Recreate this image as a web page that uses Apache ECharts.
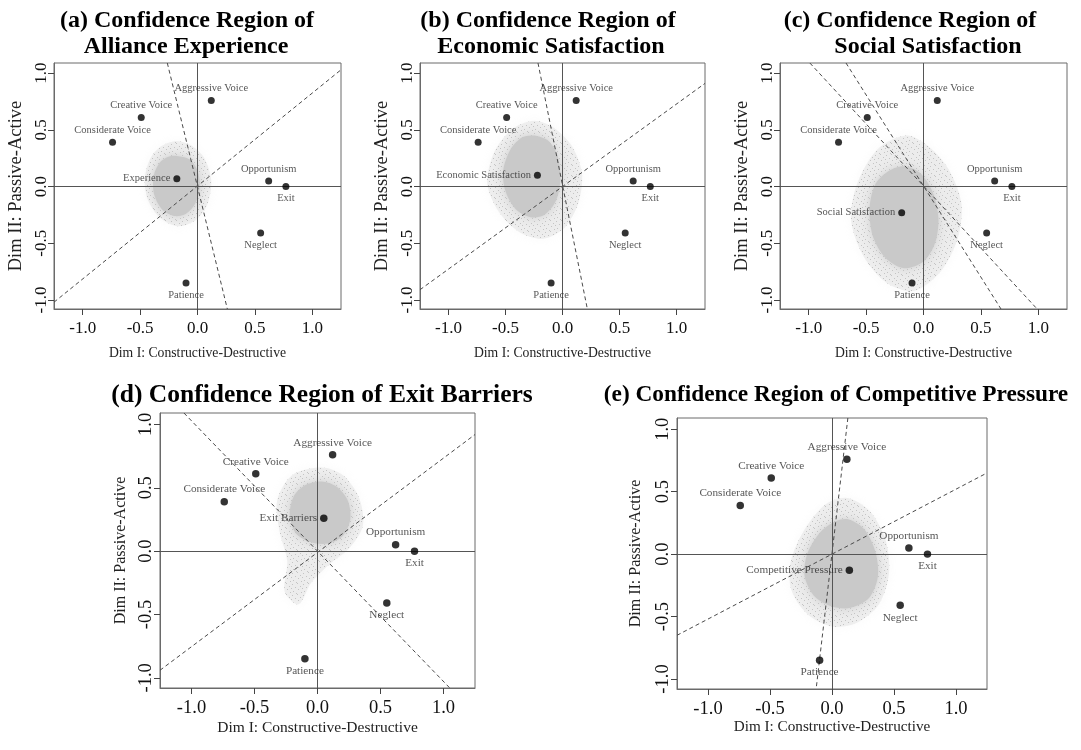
<!DOCTYPE html>
<html><head><meta charset="utf-8">
<script src="https://cdn.jsdelivr.net/npm/echarts@6/dist/echarts.min.js"></script>
<style>html,body{margin:0;padding:0;background:#fff}#c{width:1081px;height:750px}</style>
</head><body><div id="c"></div><script>
// ---- data ----
const responseNames = ['Creative Voice','Considerate Voice','Aggressive Voice','Opportunism','Exit','Neglect','Patience'];
const responseX = [-0.49,-0.74,0.12,0.62,0.77,0.55,-0.10];
const responseY = [0.61,0.39,0.76,0.05,0.00,-0.41,-0.85];

const factorNames = ['Experience','Economic Satisfaction','Social Satisfaction','Exit Barriers','Competitive Pressure'];
const factorX = [-0.18,-0.22,-0.19,0.05,0.14];
const factorY = [0.07,0.10,-0.23,0.26,-0.13];

const titleLines = [
  ['(a) Confidence Region of','Alliance Experience'],
  ['(b) Confidence Region of','Economic Satisfaction'],
  ['(c) Confidence Region of','Social Satisfaction'],
  ['(d) Confidence Region of Exit Barriers'],
  ['(e) Confidence Region of Competitive Pressure']
];
const xAxisTitle = 'Dim I: Constructive-Destructive';
const yAxisTitle = 'Dim II: Passive-Active';
const tickValues = [-1.0,-0.5,0.0,0.5,1.0];
const xRange = [-1.25,1.25];
const yRange = [-1.08,1.09];

// outlines of the sparse outer cloud and the dense core (data coordinates)
const cloudOuterA = [[-0.18,0.40],[-0.05,0.36],[0.06,0.25],[0.12,0.05],[0.08,-0.17],[-0.02,-0.30],[-0.17,-0.35],[-0.32,-0.28],[-0.43,-0.12],[-0.46,0.06],[-0.41,0.25],[-0.31,0.36]];
const cloudInnerA = [[-0.18,0.27],[-0.07,0.24],[0.0,0.14],[0.02,0.0],[-0.02,-0.15],[-0.10,-0.24],[-0.20,-0.26],[-0.31,-0.20],[-0.38,-0.06],[-0.38,0.10],[-0.33,0.21],[-0.26,0.26]];
const cloudOuterB = [[-0.25,0.58],[-0.08,0.52],[0.08,0.36],[0.17,0.12],[0.14,-0.14],[0.02,-0.36],[-0.17,-0.46],[-0.38,-0.40],[-0.56,-0.22],[-0.66,0.03],[-0.60,0.30],[-0.45,0.50]];
const cloudInnerB = [[-0.25,0.45],[-0.12,0.40],[-0.04,0.26],[-0.02,0.05],[-0.06,-0.13],[-0.16,-0.25],[-0.28,-0.27],[-0.41,-0.20],[-0.50,-0.04],[-0.52,0.14],[-0.46,0.32],[-0.36,0.43]];
const cloudOuterC = [[-0.15,0.45],[0.05,0.35],[0.22,0.15],[0.33,-0.15],[0.30,-0.45],[0.15,-0.75],[-0.08,-0.92],[-0.32,-0.85],[-0.52,-0.62],[-0.63,-0.30],[-0.58,0.02],[-0.40,0.33]];
const cloudInnerC = [[-0.17,0.18],[-0.03,0.12],[0.08,-0.05],[0.13,-0.28],[0.10,-0.50],[0.0,-0.66],[-0.17,-0.72],[-0.33,-0.63],[-0.44,-0.44],[-0.47,-0.20],[-0.42,0.02],[-0.30,0.14]];
const cloudOuterD = [[0.03,0.66],[0.20,0.60],[0.33,0.42],[0.36,0.20],[0.25,0.02],[0.10,-0.10],[-0.05,-0.25],[-0.15,-0.42],[-0.26,-0.32],[-0.24,-0.08],[-0.30,0.15],[-0.32,0.40],[-0.20,0.60]];
const cloudInnerD = [[0.03,0.55],[0.15,0.51],[0.24,0.40],[0.26,0.25],[0.20,0.12],[0.08,0.06],[-0.05,0.07],[-0.17,0.14],[-0.22,0.28],[-0.19,0.43],[-0.10,0.52]];
const cloudOuterE = [[0.12,0.45],[0.30,0.35],[0.43,0.12],[0.46,-0.15],[0.38,-0.40],[0.20,-0.55],[0.0,-0.58],[-0.20,-0.48],[-0.33,-0.28],[-0.33,-0.05],[-0.22,0.20],[-0.05,0.40]];
const cloudInnerE = [[0.13,0.28],[0.26,0.20],[0.35,0.02],[0.37,-0.18],[0.30,-0.35],[0.15,-0.43],[0.0,-0.42],[-0.14,-0.34],[-0.22,-0.18],[-0.20,0.0],[-0.10,0.17],[0.02,0.26]];
const cloudOuters = [cloudOuterA,cloudOuterB,cloudOuterC,cloudOuterD,cloudOuterE];
const cloudInners = [cloudInnerA,cloudInnerB,cloudInnerC,cloudInnerD,cloudInnerE];

// dashed reference lines (end points, data coordinates)
const dashA = [[[-0.263,1.09],[0.26,-1.08]], [[-1.25,-1.02],[1.25,1.03]]];
const dashB = [[[-0.215,1.09],[0.218,-1.08]], [[-1.25,-0.91],[1.25,0.91]]];
const dashC = [[[-0.675,1.09],[0.675,-1.08]], [[-0.99,1.09],[0.99,-1.08]]];
const dashD = [[[-1.06,1.09],[1.05,-1.08]], [[-1.25,-0.94],[1.25,0.92]]];
const dashE = [[[0.128,1.09],[-0.128,-1.08]], [[-1.25,-0.65],[1.25,0.65]]];
const dashLines = [dashA,dashB,dashC,dashD,dashE];

// ---- layout / style ----
const SERIF = '"Liberation Serif","Times New Roman",serif';
const panels = [
  {left:54, top:63, width:287, height:246, s:1.0, tf:24, titleX:[187,186], titleY:[21,47], tick:17, xName:13.7, yName:18.5, xNameGap:37, yNameGap:28},
  {left:420,top:63, width:285, height:246, s:1.0, tf:24, titleX:[548,551], titleY:[21,47], tick:17, xName:13.7, yName:18.5, xNameGap:37, yNameGap:28},
  {left:780,top:63, width:287, height:246, s:1.0, tf:24, titleX:[910,928], titleY:[21,47], tick:17, xName:13.7, yName:18.5, xNameGap:37, yNameGap:28},
  {left:160,top:413,width:315, height:275, s:1.07, tf:25.5, titleX:[322], titleY:[395], tick:18.5, xName:15.5, yName:16, xNameGap:32, yNameGap:31},
  {left:677,top:418,width:310, height:271, s:1.07, tf:23.3, titleX:[836], titleY:[395], tick:18.5, xName:15.2, yName:16, xNameGap:31, yNameGap:33}
];
const labelPos = {'Creative Voice':'top','Considerate Voice':'top','Aggressive Voice':'top','Opportunism':'top','Exit':'bottom','Neglect':'bottom','Patience':'bottom'};

// speckle texture for the sparse part of each cloud
function speckle(){
  const c = document.createElement('canvas'); c.width = 11; c.height = 11;
  const g = c.getContext('2d');
  g.fillStyle = '#c4c4c4';
  [[0,0],[6,1],[3,3],[9,4],[1,6],[7,8],[4,9],[10,10],[5,5]].forEach(d=>g.fillRect(d[0],d[1],1,1));
  return c;
}
const speckleFill = {image: speckle(), repeat: 'repeat'};

const grids=[], xAxes=[], yAxes=[], series=[], graphics=[];
panels.forEach((p,i)=>{
  grids.push({left:p.left, top:p.top, width:p.width, height:p.height, show:true, borderColor:'#6a6a6a', borderWidth:1, backgroundColor:'transparent', containLabel:false});
  xAxes.push({gridIndex:i, type:'value', min:xRange[0], max:xRange[1], position:'bottom',
    axisLine:{show:true, onZero:false, lineStyle:{color:'#6a6a6a'}}, splitLine:{show:false},
    axisTick:{show:true, customValues:tickValues, length:6, lineStyle:{color:'#444', width:1}},
    axisLabel:{customValues:tickValues, formatter:v=>v.toFixed(1), margin:11, fontFamily:SERIF, fontSize:p.tick, color:'#111'},
    name:xAxisTitle, nameLocation:'middle', nameGap:p.xNameGap, nameTextStyle:{fontFamily:SERIF, fontSize:p.xName, color:'#222'}});
  yAxes.push({gridIndex:i, type:'value', min:yRange[0], max:yRange[1], position:'left',
    axisLine:{show:true, onZero:false, lineStyle:{color:'#6a6a6a'}}, splitLine:{show:false},
    axisTick:{show:true, customValues:tickValues, length:6, lineStyle:{color:'#444', width:1}},
    axisLabel:{customValues:tickValues, formatter:v=>v.toFixed(1), rotate:90, margin:4, fontFamily:SERIF, fontSize:p.tick, color:'#111'},
    name:yAxisTitle, nameLocation:'middle', nameRotate:90, nameGap:p.yNameGap, nameTextStyle:{fontFamily:SERIF, fontSize:p.yName, color:'#222'}});

  const mkPoly = (poly, style, z) => ({
    type:'custom', xAxisIndex:i, yAxisIndex:i, data:poly, silent:true, z:z, clip:true,
    renderItem:(params, api)=>{
      if(params.dataIndex!==0) return;
      const pts = poly.map(pt=>api.coord(pt));
      return {type:'polygon', shape:{points:pts, smooth:0.3}, style:style};
    }
  });
  series.push(mkPoly(cloudOuters[i], {fill:'rgba(205,205,205,0.28)', shadowBlur:8, shadowColor:'rgba(215,215,215,0.5)'}, 1));
  series.push(mkPoly(cloudOuters[i], {fill:speckleFill}, 1));
  series.push(mkPoly(cloudInners[i], {fill:'#c9c9c9', shadowBlur:10, shadowColor:'rgba(201,201,201,0.85)'}, 2));

  dashLines[i].forEach(seg=>{
    series.push({type:'line', xAxisIndex:i, yAxisIndex:i, data:seg, symbol:'none', silent:true, z:3, clip:true,
      lineStyle:{color:'#4a4a4a', width:1, type:[4,3]}});
  });

  const pts = responseNames.map((n,k)=>({name:n, value:[responseX[k],responseY[k]],
    label:{position:labelPos[n]}}));
  pts.push({name:factorNames[i], value:[factorX[i],factorY[i]], label:{position:'left'}});
  series.push({type:'scatter', xAxisIndex:i, yAxisIndex:i, data:pts, symbol:'circle', symbolSize:7*p.s, z:5, silent:true,
    itemStyle:{color:'#000'},
    label:{show:true, formatter:'{b}', distance:3, fontFamily:SERIF, fontSize:10.5*p.s, color:'#2a2a2a'},
    markLine:{silent:true, symbol:'none', label:{show:false}, animation:false,
      lineStyle:{color:'#555', width:1, type:'solid'}, data:[{xAxis:0},{yAxis:0}]}
  });

  titleLines[i].forEach((t,k)=>{
    graphics.push({type:'text', x:p.titleX[k], y:p.titleY[k], silent:true,
      style:{text:t, textAlign:'center', textVerticalAlign:'middle', fontFamily:SERIF, fontWeight:'bold', fontSize:p.tf, fill:'#000'}});
  });
});

const chart = echarts.init(document.getElementById('c'), null, {renderer:'canvas'});
chart.setOption({backgroundColor:'#fff', animation:false, grid:grids, xAxis:xAxes, yAxis:yAxes, series:series, graphic:graphics});
</script></body></html>
